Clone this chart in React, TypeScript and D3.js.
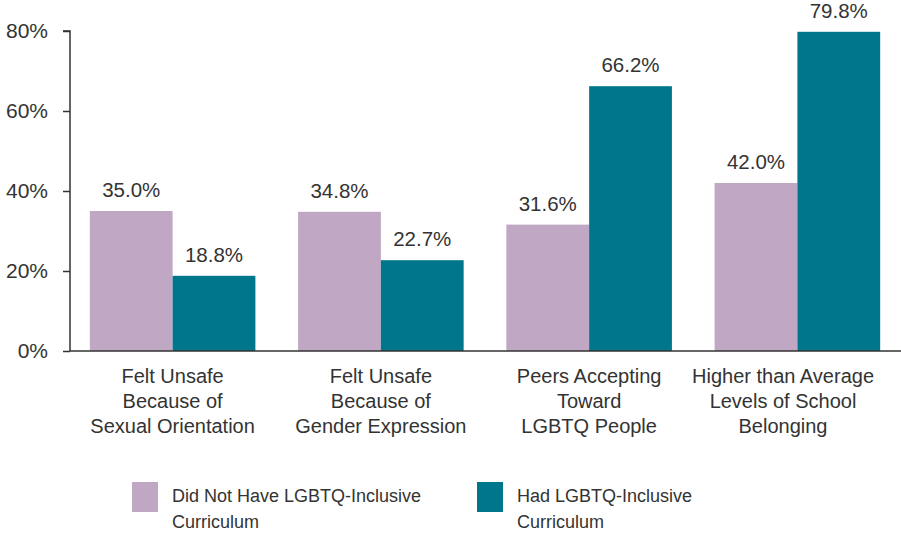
import React, { useEffect, useRef } from "react";
import * as d3 from "d3";

const categories = [
  ["Felt Unsafe", "Because of", "Sexual Orientation"],
  ["Felt Unsafe", "Because of", "Gender Expression"],
  ["Peers Accepting", "Toward", "LGBTQ People"],
  ["Higher than Average", "Levels of School", "Belonging"],
];
const didNotHave = [35.0, 34.8, 31.6, 42.0];
const hadCurriculum = [18.8, 22.7, 66.2, 79.8];
const seriesNames = [
  ["Did Not Have LGBTQ-Inclusive", "Curriculum"],
  ["Had LGBTQ-Inclusive", "Curriculum"],
];
const yTicks = [0, 20, 40, 60, 80];
const colors = ["#c0a7c4", "#00768d"];

export default function App() {
  const ref = useRef<SVGSVGElement>(null);

  useEffect(() => {
    document.body.style.margin = "0";
    const width = 901;
    const svg = d3.select(ref.current);
    svg.selectAll("*").remove();

    const font = "'Liberation Sans', Arial, sans-serif";
    const textColor = "#333";

    var x = d3
      .scaleBand<number>()
      .domain(d3.range(categories.length))
      .range([69, 901])
      .paddingInner(0.205)
      .paddingOuter(0.1);
    var y = d3.scaleLinear().domain([0, 80]).range([351, 31]);
    var xs = d3
      .scaleBand<number>()
      .domain([0, 1])
      .range([0, x.bandwidth()]);

    // y axis
    const yAxis = svg
      .append("g")
      .attr("transform", "translate(70,0)")
      .call(
        d3
          .axisLeft(y)
          .tickValues(yTicks)
          .tickSize(7)
          .tickPadding(15)
          .tickFormat((d) => d + "%")
      );
    yAxis.select(".domain").attr("stroke", "#333").attr("stroke-width", 1.5).attr("d", "M-7,31H0V351");
    yAxis.selectAll(".tick line").attr("stroke", "#333").attr("stroke-width", 1.5);
    yAxis
      .selectAll(".tick text")
      .attr("font-family", font)
      .attr("font-size", 21)
      .attr("fill", textColor);

    const series = [didNotHave, hadCurriculum];

    // bars
    series.forEach((vals, s) => {
      svg
        .append("g")
        .selectAll("rect")
        .data(vals)
        .enter()
        .append("rect")
        .attr("x", (d, i) => x(i)! + xs(s)!)
        .attr("y", (d) => y(d))
        .attr("width", xs.bandwidth())
        .attr("height", (d) => y(0) - y(d))
        .attr("fill", colors[s]);

      svg
        .append("g")
        .selectAll("text")
        .data(vals)
        .enter()
        .append("text")
        .attr("x", (d, i) => x(i)! + xs(s)! + xs.bandwidth() / 2)
        .attr("y", (d) => y(d) - 14)
        .attr("text-anchor", "middle")
        .attr("font-family", font)
        .attr("font-size", 20.5)
        .attr("fill", textColor)
        .text((d) => d.toFixed(1) + "%");
    });

    // x axis line
    svg
      .append("line")
      .attr("x1", 70)
      .attr("x2", width)
      .attr("y1", y(0))
      .attr("y2", y(0))
      .attr("stroke", "#333")
      .attr("stroke-width", 1.5);

    // category labels (kept inside the right edge, like the original)
    categories.forEach((lines, i) => {
      let cx = x(i)! + x.bandwidth() / 2;
      const t = svg
        .append("text")
        .attr("text-anchor", "middle")
        .attr("font-family", font)
        .attr("font-size", 20)
        .attr("fill", textColor);
      const spans = t
        .selectAll("tspan")
        .data(lines)
        .enter()
        .append("tspan")
        .attr("x", cx)
        .attr("y", (d, j) => 383 + j * 25)
        .text((d) => d);
      let w = 0;
      spans.each(function () {
        w = Math.max(w, (this as SVGTSpanElement).getComputedTextLength());
      });
      if (cx + w / 2 > width - 27) {
        cx = width - 27 - w / 2;
        spans.attr("x", cx);
      }
    });

    // legend
    const legendX = [132, 477];
    seriesNames.forEach((lines, s) => {
      const g = svg.append("g").attr("transform", "translate(" + legendX[s] + ",482)");
      g.append("rect").attr("width", 26).attr("height", 30).attr("fill", colors[s]);
      g.append("text")
        .attr("font-family", font)
        .attr("font-size", 18)
        .attr("fill", textColor)
        .selectAll("tspan")
        .data(lines)
        .enter()
        .append("tspan")
        .attr("x", 40)
        .attr("y", (d, j) => 20 + j * 26)
        .text((d) => d);
    });
  }, []);

  return <svg ref={ref} width={901} height={533} style={{ display: "block" }} />;
}
